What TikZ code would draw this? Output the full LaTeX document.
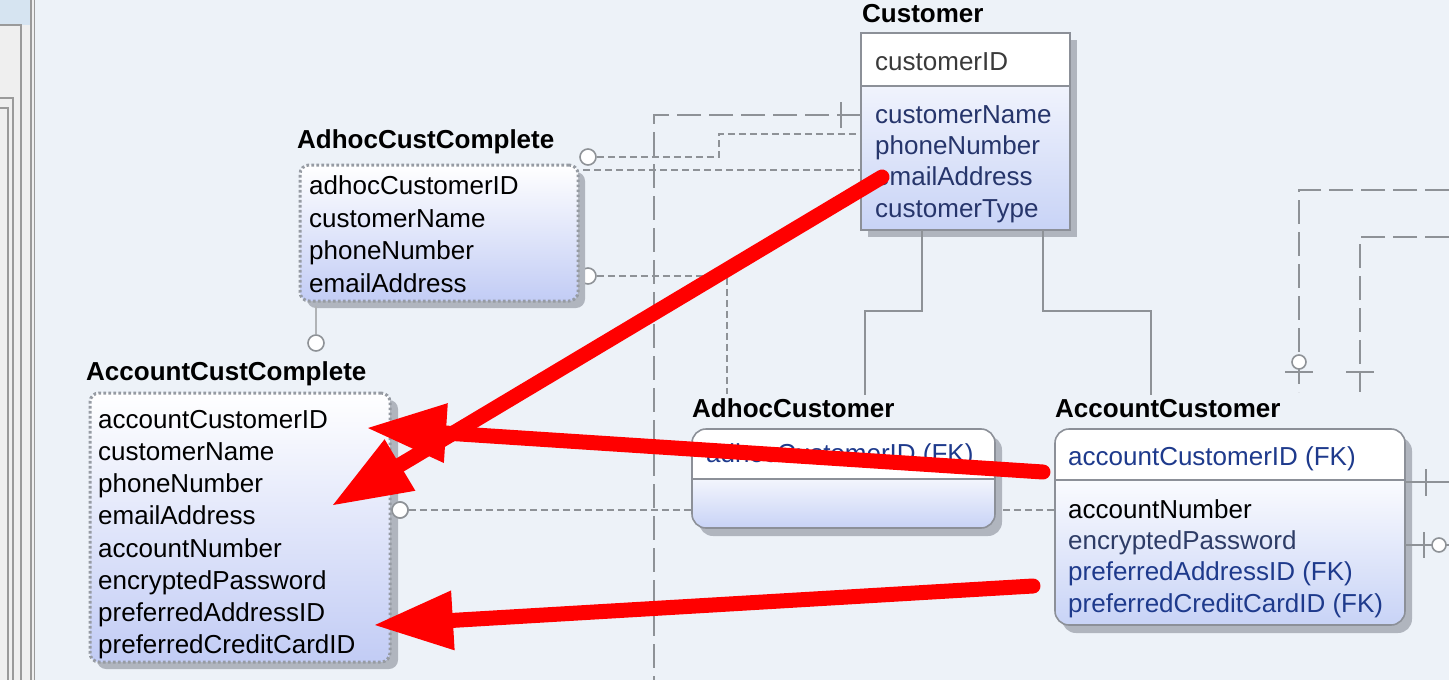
\documentclass[tikz,border=0pt]{standalone}
\usepackage{fontspec}
\setmainfont{Liberation Sans}
\usetikzlibrary{arrows.meta}
\definecolor{bgc}{HTML}{EDF2F8}
\definecolor{panelc}{HTML}{EFEFEF}
\definecolor{bandc}{HTML}{D6E4F1}
\definecolor{uic}{HTML}{9A9A9A}
\definecolor{dotc}{HTML}{969BA3}
\definecolor{boxc}{HTML}{8C9098}
\definecolor{linec}{HTML}{8E9297}
\definecolor{shadc}{HTML}{B0B5BE}
\definecolor{viewblue}{HTML}{C2CCF5}
\definecolor{entblue}{HTML}{C8D3F6}
\definecolor{navy}{HTML}{26356B}
\definecolor{fkblue}{HTML}{1E3A8C}
\definecolor{greyt}{HTML}{3A3A3A}
\definecolor{pwc}{HTML}{2E3C66}
\definecolor{arrred}{HTML}{FF0000}
\begin{document}
\begin{tikzpicture}[x=1pt,y=-1pt,
  att/.style={anchor=base west, inner sep=0pt, font=\fontsize{26}{30}\selectfont},
  ttl/.style={anchor=base west, inner sep=0pt, font=\fontsize{26}{30}\selectfont\bfseries, text=black},
  vbox/.style={anchor=north west, inner sep=0pt, outer sep=0pt, draw=dotc, line width=3pt, dash pattern=on 2.6pt off 2.4pt, rounded corners=9pt, top color=white, bottom color=viewblue},
  custbox/.style={anchor=north west, inner sep=0pt, outer sep=0pt, draw=boxc, line width=1.6pt, top color=white, bottom color=entblue},
  hdrbox/.style={anchor=north west, inner sep=0pt, outer sep=0pt, draw=boxc, line width=1.6pt, fill=white},
  efill/.style={anchor=north west, inner sep=0pt, outer sep=0pt, fill=white, rounded corners=14pt},
  eshade/.style={anchor=north west, inner sep=0pt, outer sep=0pt, top color=white, bottom color=entblue, rounded corners=14pt},
  eline/.style={anchor=north west, inner sep=0pt, outer sep=0pt, draw=boxc, line width=1.6pt, rounded corners=14pt},
  relline/.style={draw=linec, line width=1.8pt},
  viewlink/.style={draw=linec, line width=1.8pt, dash pattern=on 7pt off 4pt},
  longlink/.style={draw=linec, line width=2.2pt, dash pattern=on 24pt off 8pt},
  optc/.style={circle, draw=linec, fill=white, line width=1.6pt, minimum size=16pt, inner sep=0pt},
  optsmall/.style={circle, draw=linec, fill=white, line width=1.6pt, minimum size=14pt, inner sep=0pt},
  redarr/.style={draw=arrred, line width=15pt, line cap=round, -{Triangle[length=78pt,width=60pt,line width=0pt]}}
]
\useasboundingbox (0,0) rectangle (1449,680);
\fill[bgc] (0,0) rectangle (1449,680);

% left UI panel
\fill[panelc] (0,0) rectangle (34,680);
\fill[bandc] (0,0) rectangle (32,25);
\draw[uic, line width=1.5pt] (0,25) -- (21,25) -- (21,680);
\draw[uic, line width=1.5pt] (0,98) -- (13,98) -- (13,680);
\draw[uic, line width=1.5pt] (0,108) -- (8,108) -- (8,680);
\draw[uic, line width=1.5pt] (31,0) -- (31,680);
\draw[uic, line width=1.5pt] (34.5,0) -- (34.5,680);

% named coordinates
\coordinate (ldbottom) at (654,680);
\coordinate (adhocttl) at (865,395);
\coordinate (accttl) at (1151,395);
\coordinate (adhoclink) at (727,394);
\coordinate (rt1) at (1449,190);
\coordinate (rb1) at (1299,392);
\coordinate (rt2) at (1449,237);
\coordinate (rb2) at (1360,392);
\coordinate (re1) at (1449,482);
\coordinate (re2) at (1449,545);

% Customer
\fill[shadc] (868,40) rectangle (1077,237);
\node[custbox, minimum width=209pt, minimum height=197pt] (cust) at (861,33) {};
\node[hdrbox, minimum width=209pt, minimum height=53pt] (custhdr) at (861,33) {};

% connectors behind boxes
\draw[longlink] (cust.west |- 0,115) -| (ldbottom);
\draw[relline] (841,102) -- (841,128);

\node[optc] (o1) at (588,157) {};
\node[optc] (o2) at (588,276) {};
\node[optc] (o3) at (400,510) {};
\node[optc] (o4) at (316,343) {};

\draw[viewlink] (o1.east) -| (719,134) -- (cust.west |- 0,134);
\draw[viewlink] (583,170) -- (cust.west |- 0,170);
\draw[viewlink] (o2.east) -| (adhoclink);
\draw[viewlink] (o3.east) -- (1055,510);

\draw[relline] (cust.south -| 922,0) |- (865,311) -- (adhocttl);
\draw[relline] (cust.south -| 1043,0) |- (1151,311) -- (accttl);

\draw[longlink] (rt1) -| (rb1);
\draw[relline] (1285,372) -- (1313,372);
\node[optsmall] (o5) at (1299,362) {};
\draw[longlink] (rt2) -| (rb2);
\draw[relline] (1346,372) -- (1374,372);

% AdhocCustComplete
\fill[shadc, rounded corners=9pt] (307,172) rectangle (585,308);
\draw[linec!70, line width=1.6pt] (316,306) -- (o4.north);
\node[vbox, minimum width=278pt, minimum height=136pt] (adhocc) at (300,165) {};

% AccountCustComplete
\fill[shadc, rounded corners=9pt] (97,400) rectangle (398,669);
\node[vbox, minimum width=300pt, minimum height=269pt] (accc) at (90,393) {};
\node[optc] at (o3) {};

% AdhocCustomer
\fill[shadc, rounded corners=14pt] (699,436) rectangle (1002,536);
\node[efill, minimum width=303pt, minimum height=99pt] at (692,429) {};
\begin{scope}
\clip (692,479) rectangle (995,540);
\node[eshade, minimum width=303pt, minimum height=63pt] at (692,465) {};
\end{scope}
\node[eline, minimum width=303pt, minimum height=99pt] (adhoc) at (692,429) {};
\draw[boxc, line width=1.6pt] (adhoc.west |- 0,479) -- (adhoc.east |- 0,479);

% AccountCustomer
\fill[shadc, rounded corners=14pt] (1062,437) rectangle (1412,633);
\node[efill, minimum width=350pt, minimum height=196pt] at (1055,429) {};
\begin{scope}
\clip (1055,480) rectangle (1405,640);
\node[eshade, minimum width=350pt, minimum height=159pt] at (1055,466) {};
\end{scope}
\node[eline, minimum width=350pt, minimum height=196pt] (acct) at (1055,429) {};
\draw[boxc, line width=1.6pt] (acct.west |- 0,480) -- (acct.east |- 0,480);

\draw[relline] (acct.east |- 0,482) -- (re1);
\draw[relline] (1426,469) -- (1426,496);
\draw[relline] (acct.east |- 0,545) -- (re2);
\draw[relline] (1424,532) -- (1424,558);
\node[optsmall] (o6) at (1439,545) {};

% texts
\node[ttl] (tcust) at (862,22) {Customer};
\node[att, text=greyt] (cid) at (875,70) {customerID};
\node[att, text=navy] (cname) at (875,123) {customerName};
\node[att, text=navy] (cphone) at (875,154) {phoneNumber};
\node[att, text=navy] (cemail) at (875,185) {emailAddress};
\node[att, text=navy] (ctype) at (875,217) {customerType};

\node[ttl] (tadhocc) at (297,148) {AdhocCustComplete};
\node[att] (ac1) at (309,194) {adhocCustomerID};
\node[att] (ac2) at (309,227) {customerName};
\node[att] (ac3) at (309,259) {phoneNumber};
\node[att] (ac4) at (309,292) {emailAddress};

\node[ttl] (taccc) at (86,380) {AccountCustComplete};
\node[att] (cc1) at (98,428) {accountCustomerID};
\node[att] (cc2) at (98,460) {customerName};
\node[att] (cc3) at (98,492) {phoneNumber};
\node[att] (cc4) at (98,524) {emailAddress};
\node[att] (cc5) at (98,557) {accountNumber};
\node[att] (cc6) at (98,589) {encryptedPassword};
\node[att] (cc7) at (98,621) {preferredAddressID};
\node[att] (cc8) at (98,653) {preferredCreditCardID};

\node[ttl] (tadhoc) at (692,417) {AdhocCustomer};
\node[att, text=fkblue] (ah1) at (706,462) {adhocCustomerID (FK)};

\node[ttl] (tacct) at (1055,417) {AccountCustomer};
\node[att, text=fkblue] (at1) at (1068,465) {accountCustomerID (FK)};
\node[att, text=black] (at2) at (1068,518) {accountNumber};
\node[att, text=pwc] (at3) at (1068,549) {encryptedPassword};
\node[att, text=fkblue] (at4) at (1068,580) {preferredAddressID (FK)};
\node[att, text=fkblue] (at5) at (1068,612) {preferredCreditCardID (FK)};

% red arrows
\coordinate (a1s) at (882,177);
\coordinate (a1e) at (333,505);
\coordinate (a2s) at (1043,472);
\coordinate (a2e) at (368,428);
\coordinate (a3s) at (1033,586);
\coordinate (a3e) at (375,625);
\draw[redarr] (a1s) -- (a1e);
\draw[redarr] (a2s) -- (a2e);
\draw[redarr] (a3s) -- (a3e);
\end{tikzpicture}
\end{document}
